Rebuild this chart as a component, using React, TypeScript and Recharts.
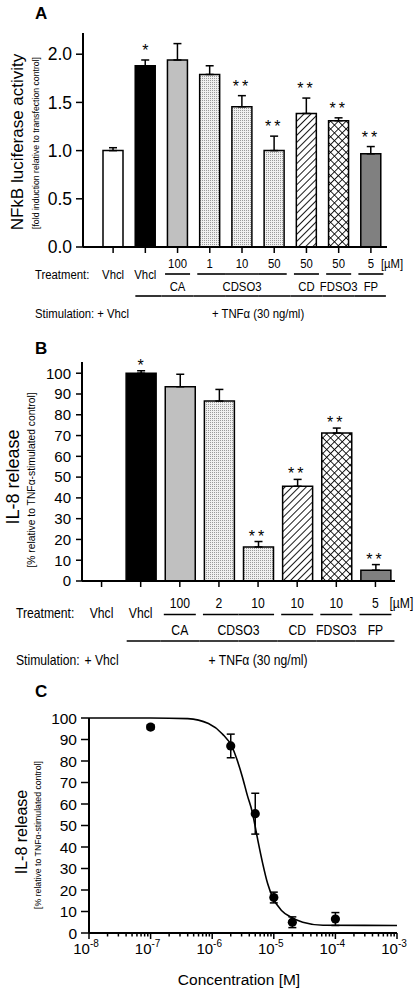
import React from 'react';
import { ComposedChart, Bar, Cell, ErrorBar, Scatter, Line, XAxis, YAxis } from 'recharts';

// ---- panel A: NFkB luciferase activity ----
const aCompounds = ['Vhcl', 'Vhcl', 'CA', 'CDSO3', 'CDSO3', 'CDSO3', 'CD', 'FDSO3', 'FP'];
const aDoses = ['', '', '100', '1', '10', '50', '50', '50', '5'];
const aMeans = [1.0, 1.88, 1.94, 1.79, 1.455, 1.0, 1.385, 1.31, 0.967];
const aErrors = [0.03, 0.06, 0.17, 0.09, 0.115, 0.15, 0.16, 0.03, 0.075];
const aStars = ['', '*', '', '', '**', '**', '**', '**', '**'];
const aYTicks = [0, 0.5, 1, 1.5, 2];

// ---- panel B: IL-8 release ----
const bCompounds = ['Vhcl', 'Vhcl', 'CA', 'CDSO3', 'CDSO3', 'CD', 'FDSO3', 'FP'];
const bDoses = ['', '', '100', '2', '10', '10', '10', '5'];
const bMeans = [0, 100, 93.5, 86.6, 16.4, 45.6, 71.2, 5.2];
const bErrors = [3.6, 1.2, 6, 5.6, 2.6, 3.3, 2.4, 2.7];
const bStars = ['', '*', '', '', '**', '**', '**', '**'];
const bYTicks = [0, 10, 20, 30, 40, 50, 60, 70, 80, 90, 100];

// ---- panel C: concentration response ----
const cConc = [1e-7, 2e-6, 5e-6, 1e-5, 2e-5, 1e-4];
const cMeans = [95.8, 87, 55.5, 16.5, 5, 6.5];
const cErrors = [1, 5.5, 9.5, 2.5, 2.5, 3];
const fitConc = [1e-8, 1e-7, 4e-7, 8.7e-7, 1.45e-6, 2.11e-6, 2.55e-6, 3.09e-6, 3.72e-6, 4.47e-6, 5.37e-6, 6.61e-6, 7.94e-6, 9.55e-6, 1.32e-5, 1.91e-5, 2.95e-5, 6.3e-5, 1e-3];
const fitRelease = [100, 100, 99.7, 97.4, 92.7, 86.5, 80.3, 72.6, 64.0, 56.3, 44.7, 32.3, 23.0, 16.7, 10.6, 7.4, 5.0, 3.6, 3.5];
const cDecades = [-8, -7, -6, -5, -4, -3];
const cYTicks = [0, 10, 20, 30, 40, 50, 60, 70, 80, 90, 100];

const SANS = "'Liberation Sans', Arial, sans-serif";

const aFills = ['#ffffff', '#000000', '#c0c0c0', 'url(#dotsA)', 'url(#dotsA)', 'url(#dotsA)', 'url(#hatchA)', 'url(#crossA)', '#808080'];
const bFills = ['#ffffff', '#000000', '#c0c0c0', 'url(#dotsB)', 'url(#dotsB)', 'url(#hatchB)', 'url(#crossB)', '#808080'];

const aRows = aMeans.map((m, i) => ({ slot: String(i), mean: m, err: [0, aErrors[i]], top: m + aErrors[i], star: aStars[i] }));
const bRows = bMeans.map((m, i) => ({ slot: String(i), mean: m, err: [0, bErrors[i]], top: m + bErrors[i], star: bStars[i] }));
const cPoints = cConc.map((x, i) => ({ x, y: cMeans[i], err: cErrors[i] }));
const fitLine = fitConc.map((x, i) => ({ x, y: fitRelease[i] }));

const minorTicks: number[] = [];
cDecades.slice(0, -1).forEach((d) => {
  for (let m = 2; m <= 9; m++) minorTicks.push(m * Math.pow(10, d));
});
const cXTicks = [...cDecades.map((d) => Math.pow(10, d)), ...minorTicks].sort((p, q) => p - q);

const Patterns = ({ id }: { id: string }) => (
  <defs>
    <pattern id={`dots${id}`} width="2" height="2" patternUnits="userSpaceOnUse">
      <rect width="2" height="2" fill="#f0f0f0" />
      <rect width="1" height="1" fill="#9a9a9a" />
    </pattern>
    <pattern id={`hatch${id}`} width="5" height="5" patternUnits="userSpaceOnUse" patternTransform="rotate(45)">
      <rect width="5" height="5" fill="#fff" />
      <line x1="0" y1="0" x2="0" y2="5" stroke="#000" strokeWidth="1.8" />
    </pattern>
    <pattern id={`cross${id}`} width="5.5" height="5.5" patternUnits="userSpaceOnUse" patternTransform="rotate(45)">
      <rect width="5.5" height="5.5" fill="#fff" />
      <line x1="0" y1="0" x2="0" y2="5.5" stroke="#000" strokeWidth="1.7" />
      <line x1="0" y1="0" x2="5.5" y2="0" stroke="#000" strokeWidth="1.7" />
    </pattern>
  </defs>
);

// condensed text (no narrow font installed, so squeeze Arial metrics)
const NText = ({ x, y, anchor = 'middle', size, children }: any) => (
  <text transform={`translate(${x},${y}) scale(0.84,1)`} textAnchor={anchor} fontFamily={SANS} fontSize={size} fill="#000">
    {children}
  </text>
);

type TableCfg = {
  compounds: string[];
  doses: string[];
  band: number;
  half: number;
  tnfStart: number;
  tnfEnd: number;
  unitDx: number;
  labelX: number;
  font: number;
  rows: { dose: number; treat: number; line: number; name: number; long: number; stim: number };
};

const makeTableTick = (cfg: TableCfg) => (props: any) => {
  const { x, y, payload } = props;
  const i = props.index ?? payload?.index ?? 0;
  const ay = y - 6;
  const n = cfg.compounds.length;
  const c = cfg.compounds[i];
  const f = cfg.font;
  const r = cfg.rows;
  const els: React.ReactNode[] = [];
  if (cfg.doses[i]) els.push(<NText key="d" x={x} y={ay + r.dose} size={f}>{cfg.doses[i]}</NText>);
  if (i === n - 1) els.push(<NText key="u" x={x + cfg.unitDx} y={ay + r.dose} anchor="start" size={f}>[µM]</NText>);
  if (c === 'Vhcl') {
    els.push(<NText key="v" x={x} y={ay + r.treat} size={f}>Vhcl</NText>);
  } else {
    const prevSame = cfg.compounds[i - 1] === c;
    const nextSame = cfg.compounds[i + 1] === c;
    const l = prevSame ? x - cfg.band / 2 : x - cfg.half;
    const rr = nextSame ? x + cfg.band / 2 : x + cfg.half;
    els.push(<line key="g" x1={l} x2={rr} y1={ay + r.line} y2={ay + r.line} stroke="#000" strokeWidth={1.6} />);
    if (!prevSame) {
      let count = 1;
      while (cfg.compounds[i + count] === c) count++;
      els.push(<NText key="gn" x={x + ((count - 1) * cfg.band) / 2} y={ay + r.name} size={f}>{c}</NText>);
    }
  }
  if (i >= 1) {
    const l = i === 1 ? x - cfg.tnfStart : x - cfg.band / 2;
    const rr = i === n - 1 ? x + cfg.tnfEnd : x + cfg.band / 2;
    els.push(<line key="tl" x1={l} x2={rr} y1={ay + r.long} y2={ay + r.long} stroke="#000" strokeWidth={1.6} />);
  }
  if (i === 1) {
    els.push(<NText key="tn" x={x + ((n - 2) * cfg.band) / 2} y={ay + r.stim} size={f}>+ TNFα (30 ng/ml)</NText>);
  }
  if (i === 0) {
    els.push(<NText key="tr" x={cfg.labelX} y={ay + r.treat} anchor="start" size={f}>Treatment:</NText>);
    els.push(<NText key="st" x={cfg.labelX} y={ay + r.stim} anchor="start" size={f}>Stimulation:</NText>);
    els.push(<NText key="sv" x={x} y={ay + r.stim} size={f}>+ Vhcl</NText>);
  }
  return <g>{els}</g>;
};

const starShape = (font: number, lift: number) => (p: any) => {
  if (!p.payload?.star) return <g />;
  return (
    <text x={p.cx} y={p.cy - lift} textAnchor="middle" fontFamily={SANS} fontSize={font} letterSpacing={p.payload.star.length > 1 ? 3 : 0} fill="#000">
      {p.payload.star}
    </text>
  );
};

const aTableTick = makeTableTick({
  compounds: aCompounds, doses: aDoses, band: 32.2, half: 12.5, tnfStart: 10, tnfEnd: 15, unitDx: 10, labelX: 35, font: 13.5,
  rows: { dose: 21, treat: 32, line: 27, name: 44, long: 49, stim: 71 },
});

const bTableTick = makeTableTick({
  compounds: bCompounds, doses: bDoses, band: 39.1, half: 16, tnfStart: 14, tnfEnd: 19, unitDx: 14, labelX: 16, font: 14.5,
  rows: { dose: 27, treat: 37, line: 33.5, name: 54, long: 60, stim: 84 },
});

const cXTick = (props: any) => {
  const { x, y, payload } = props;
  const ay = y - 6;
  const lg = Math.log10(payload.value);
  const major = Math.abs(lg - Math.round(lg)) < 1e-6;
  return (
    <g>
      <line x1={x} x2={x} y1={ay} y2={ay + (major ? 6 : 3.5)} stroke="#000" strokeWidth={1.5} />
      {major && (
        <text x={x - 3} y={ay + 21} textAnchor="middle" fontFamily={SANS} fontSize={15} fill="#000">
          10<tspan dy={-7} fontSize={10}>{Math.round(lg)}</tspan>
        </text>
      )}
    </g>
  );
};

const axisStroke = { stroke: '#000', strokeWidth: 2 };

const YTitle = ({ x, y, main, sub, mainSize, subX, subSize, subY }: any) => (
  <g fontFamily={SANS} fill="#000">
    <text transform={`translate(${x},${y}) rotate(-90)`} textAnchor="middle" dominantBaseline="central" fontSize={mainSize}>{main}</text>
    <text transform={`translate(${subX},${subY}) rotate(-90)`} textAnchor="middle" dominantBaseline="central" fontSize={subSize}>{sub}</text>
  </g>
);

export default function App() {
  return (
    <div style={{ position: 'absolute', left: 0, top: 0, width: 416, height: 993, background: '#fff', fontFamily: SANS }}>
      <div style={{ position: 'absolute', left: 0, top: 0 }}>
        <ComposedChart width={416} height={330} data={aRows} margin={{ top: 33, right: 29, left: 33, bottom: 0 }}>
          <Patterns id="A" />
          <XAxis dataKey="slot" height={83} padding={{ left: 14, right: 0 }} axisLine={axisStroke} tickLine={{ stroke: '#000', strokeWidth: 1.5 }} tickSize={6} tickMargin={0} interval={0} tick={aTableTick} />
          <YAxis width={50} domain={[0, 2.22]} ticks={aYTicks} interval={0} tickFormatter={(v: number) => v.toFixed(1)} axisLine={axisStroke} tickLine={{ stroke: '#000', strokeWidth: 1.5 }} tickSize={7} tickMargin={4} tick={{ fontSize: 17.5, fill: '#000', fontFamily: SANS }} />
          <Bar dataKey="mean" barSize={20} stroke="#000" strokeWidth={1.5} isAnimationActive={false}>
            {aRows.map((_, i) => <Cell key={i} fill={aFills[i]} />)}
            <ErrorBar dataKey="err" width={4} stroke="#000" strokeWidth={1.5} direction="y" />
          </Bar>
          <Scatter dataKey="top" shape={starShape(16, 4)} isAnimationActive={false} />
        </ComposedChart>
      </div>

      <div style={{ position: 'absolute', left: 0, top: 340 }}>
        <ComposedChart width={416} height={335} data={bRows} margin={{ top: 22, right: 21, left: 32, bottom: 0 }}>
          <Patterns id="B" />
          <XAxis dataKey="slot" height={94} axisLine={axisStroke} tickLine={{ stroke: '#000', strokeWidth: 1.5 }} tickSize={6} tickMargin={0} interval={0} tick={bTableTick} />
          <YAxis width={50} domain={[0, 105.4]} ticks={bYTicks} interval={0} axisLine={axisStroke} tickLine={{ stroke: '#000', strokeWidth: 1.5 }} tickSize={6} tickMargin={5} tick={{ fontSize: 15, fill: '#000', fontFamily: SANS }} />
          <Bar dataKey="mean" barSize={30} stroke="#000" strokeWidth={1.5} isAnimationActive={false}>
            {bRows.map((_, i) => <Cell key={i} fill={bFills[i]} />)}
            <ErrorBar dataKey="err" width={4} stroke="#000" strokeWidth={1.5} direction="y" />
          </Bar>
          <Scatter dataKey="top" shape={starShape(16, 0)} isAnimationActive={false} />
        </ComposedChart>
      </div>

      <div style={{ position: 'absolute', left: 0, top: 700 }}>
        <ComposedChart width={416} height={293} margin={{ top: 18, right: 19, left: 39, bottom: 0 }}>
          <XAxis dataKey="x" type="number" scale="log" domain={[1e-8, 1e-3]} ticks={cXTicks} height={60} axisLine={axisStroke} tickLine={false} tickSize={6} tickMargin={0} interval={0} tick={cXTick} />
          <YAxis width={50} domain={[0, 100]} ticks={cYTicks} interval={0} axisLine={axisStroke} tickLine={{ stroke: '#000', strokeWidth: 1.5 }} tickSize={8} tickMargin={4} tick={{ fontSize: 15.5, fill: '#000', fontFamily: SANS }} />
          <Line data={fitLine} dataKey="y" type="monotone" stroke="#000" strokeWidth={1.6} dot={false} isAnimationActive={false} />
          <Scatter data={cPoints} dataKey="y" shape={(p: any) => <circle cx={p.cx} cy={p.cy} r={4.6} fill="#000" />} isAnimationActive={false}>
            <ErrorBar dataKey="err" direction="y" width={4} stroke="#000" strokeWidth={1.5} />
          </Scatter>
        </ComposedChart>
      </div>

      <svg width={416} height={993} style={{ position: 'absolute', left: 0, top: 0, pointerEvents: 'none' }}>
        <g fontFamily={SANS} fontWeight="bold" fontSize={17} fill="#000">
          <text x={35} y={19}>A</text>
          <text x={35} y={354}>B</text>
          <text x={35} y={697}>C</text>
        </g>
        <YTitle x={17.5} y={142} main="NFkB luciferase activity" mainSize={17} subX={36} subY={143} subSize={8.7} sub="[fold induction relative to transfection control]" />
        <YTitle x={13} y={477} main="IL-8 release" mainSize={18} subX={31} subY={480} subSize={10.3} sub="[% relative to TNFα-stimulated control]" />
        <YTitle x={21} y={832} main="IL-8 release" mainSize={16} subX={37.5} subY={835} subSize={8.7} sub="[% relative to TNFα-stimulated control]" />
        <text x={239} y={985} textAnchor="middle" fontFamily={SANS} fontSize={15.5} fill="#000">Concentration  [M]</text>
      </svg>
    </div>
  );
}
